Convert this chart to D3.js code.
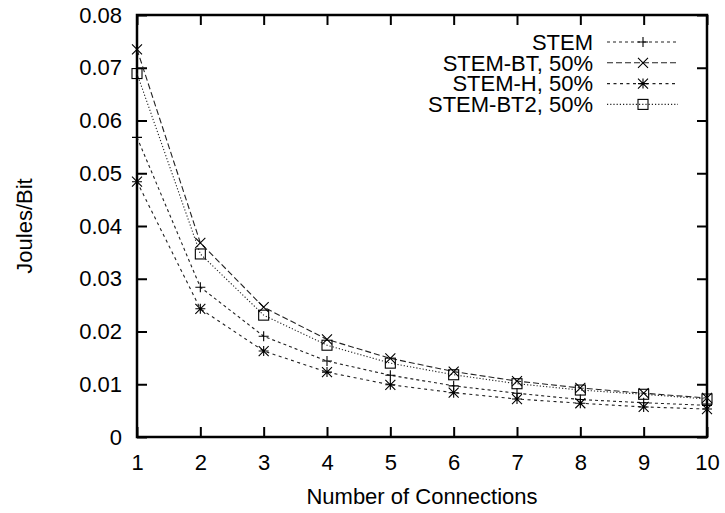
<!DOCTYPE html>
<html>
<head>
<meta charset="utf-8">
<script src="https://cdn.jsdelivr.net/npm/d3@7"></script>
<style>
  html, body { margin: 0; padding: 0; background: #fff; }
  svg { display: block; }
  text { font-family: "Liberation Sans", Arial, Helvetica, sans-serif; fill: #000; }
</style>
</head>
<body>
<svg id="chart" width="725" height="513"></svg>
<script>
// Energy per bit versus number of connections
const connections = [1, 2, 3, 4, 5, 6, 7, 8, 9, 10];
const seriesNames = ["STEM", "STEM-BT, 50%", "STEM-H, 50%", "STEM-BT2, 50%"];
const stem    = [0.0568, 0.0284, 0.0191, 0.0144, 0.0117, 0.0097, 0.0083, 0.0071, 0.0065, 0.0060];
const stemBT  = [0.0735, 0.0368, 0.0246, 0.0185, 0.0149, 0.0124, 0.0106, 0.0093, 0.0083, 0.0074];
const stemH   = [0.0484, 0.0243, 0.0163, 0.0123, 0.0099, 0.0084, 0.0072, 0.0064, 0.0057, 0.0053];
const stemBT2 = [0.0689, 0.0347, 0.0231, 0.0174, 0.0140, 0.0118, 0.0101, 0.0089, 0.0081, 0.0072];
const yTicks = [0, 0.01, 0.02, 0.03, 0.04, 0.05, 0.06, 0.07, 0.08];

const seriesValues = [stem, stemBT, stemH, stemBT2];
const dashes = ["3,3", "6,3", "3,3.5", "1.2,2"];
const markers = ["plus", "cross", "star", "square"];

const svg = d3.select("#chart");
const plotL = 137, plotR = 707, plotT = 15, plotB = 437;
const fontSize = 22;

const x = d3.scaleLinear().domain([1, 10]).range([plotL, plotR]);
const y = d3.scaleLinear().domain([0, 0.08]).range([plotB, plotT]);

// Tick marks point inward on all four sides
const tickLen = 10;
const gx = svg.append("g").attr("transform", `translate(0,${plotB})`)
  .call(d3.axisBottom(x).tickValues(connections).tickSize(-tickLen).tickPadding(17).tickFormat(d3.format("d")));
const gy = svg.append("g").attr("transform", `translate(${plotL},0)`)
  .call(d3.axisLeft(y).tickValues(yTicks).tickSize(-tickLen).tickPadding(15).tickFormat(d => d === 0 ? "0" : d3.format(".2f")(d)));
const gx2 = svg.append("g").attr("transform", `translate(0,${plotT})`)
  .call(d3.axisTop(x).tickValues(connections).tickSize(-tickLen).tickFormat(""));
const gy2 = svg.append("g").attr("transform", `translate(${plotR},0)`)
  .call(d3.axisRight(y).tickValues(yTicks).tickSize(-tickLen).tickFormat(""));

[gx, gy, gx2, gy2].forEach(g => {
  g.select(".domain").remove();
  g.selectAll(".tick line").attr("stroke", "#000").attr("stroke-width", 2);
  g.selectAll(".tick text").attr("font-size", fontSize).attr("font-family", "Liberation Sans, Arial, sans-serif").attr("fill", "#000");
});

// Plot border
svg.append("rect")
  .attr("x", plotL).attr("y", plotT)
  .attr("width", plotR - plotL).attr("height", plotB - plotT)
  .attr("fill", "none").attr("stroke", "#000").attr("stroke-width", 2.5);

// Axis titles
svg.append("text")
  .attr("x", (plotL + plotR) / 2).attr("y", 504)
  .attr("text-anchor", "middle").attr("font-size", fontSize)
  .text("Number of Connections");
svg.append("text")
  .attr("transform", `translate(32,${(plotT + plotB) / 2}) rotate(-90)`)
  .attr("text-anchor", "middle").attr("font-size", fontSize)
  .text("Joules/Bit");

function drawMarker(g, type, cx, cy) {
  const r = 5;
  const s = g.append("g").attr("transform", `translate(${cx},${cy})`)
    .attr("stroke", "#000").attr("stroke-width", 1.1).attr("fill", "none");
  if (type === "plus") {
    s.append("path").attr("d", `M${-r},0H${r}M0,${-r}V${r}`);
  } else if (type === "cross") {
    s.append("path").attr("d", `M${-r},${-r}L${r},${r}M${-r},${r}L${r},${-r}`);
  } else if (type === "star") {
    s.append("path").attr("d", `M${-r},0H${r}M0,${-r}V${r}M${-r},${-r}L${r},${r}M${-r},${r}L${r},${-r}`);
  } else {
    s.append("rect").attr("x", -r).attr("y", -r).attr("width", 2 * r).attr("height", 2 * r);
  }
}

const line = d3.line().x(d => x(d[0])).y(d => y(d[1]));

seriesValues.forEach((vals, i) => {
  const pts = connections.map((c, j) => [c, vals[j]]);
  svg.append("path").datum(pts)
    .attr("d", line)
    .attr("fill", "none").attr("stroke", "#222").attr("stroke-width", 1.1)
    .attr("stroke-dasharray", dashes[i]);
  const mg = svg.append("g");
  pts.forEach(p => drawMarker(mg, markers[i], x(p[0]), y(p[1])));
});

// Legend
const legX = 593, legY0 = 42, legStep = 20.8;
seriesNames.forEach((name, i) => {
  const ly = legY0 + i * legStep;
  svg.append("text")
    .attr("x", legX).attr("y", ly).attr("dy", "0.35em")
    .attr("text-anchor", "end").attr("font-size", fontSize)
    .text(name);
  svg.append("line")
    .attr("x1", 607).attr("x2", 678).attr("y1", ly).attr("y2", ly)
    .attr("stroke", "#222").attr("stroke-width", 1.1)
    .attr("stroke-dasharray", dashes[i]);
  drawMarker(svg, markers[i], 643, ly);
});
</script>
</body>
</html>
